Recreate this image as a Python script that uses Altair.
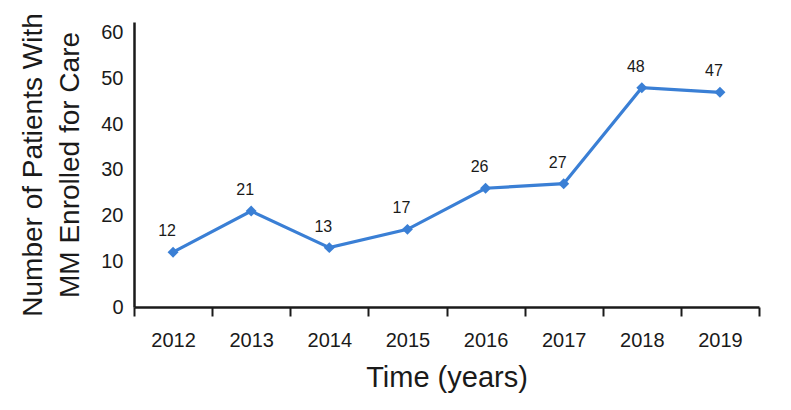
import altair as alt
import pandas as pd

years = [2012, 2013, 2014, 2015, 2016, 2017, 2018, 2019]
patients = [12, 21, 13, 17, 26, 27, 48, 47]
y_ticks = [0, 10, 20, 30, 40, 50, 60]

df = pd.DataFrame({"year": years, "patients": patients})

FONT = "Liberation Sans, Arial, Helvetica, sans-serif"
BLUE = "#3A7FD5"
INK = "#1a1a1a"

x_vals = []
for y in years:
    x_vals += [y - 0.5, y]
x_vals.append(years[-1] + 0.5)

x_enc = alt.X(
    "year:Q",
    scale=alt.Scale(domain=[years[0] - 0.5, years[-1] + 0.5], nice=False, zero=False),
    axis=alt.Axis(
        title="Time (years)",
        values=x_vals,
        labelExpr="datum.value % 1 === 0 ? datum.value : ''",
        tickOpacity={"condition": {"test": "datum.value % 1 === 0", "value": 0}, "value": 1},
        tickSize=9,
        tickWidth=2,
        tickColor=INK,
        domainColor=INK,
        domainWidth=2.5,
        labelFont=FONT,
        labelFontSize=20,
        labelColor=INK,
        labelPadding=14,
        titleFont=FONT,
        titleFontSize=29,
        titleFontWeight="normal",
        titleColor=INK,
        titlePadding=13,
        grid=False,
    ),
)

y_enc = alt.Y(
    "patients:Q",
    scale=alt.Scale(domain=[0, 62.4], nice=False),
    axis=alt.Axis(
        title=["Number of Patients With", "MM Enrolled for Care"],
        values=y_ticks,
        tickSize=0,
        domainColor=INK,
        domainWidth=2.5,
        labelFont=FONT,
        labelFontSize=20,
        labelColor=INK,
        labelPadding=11,
        titleFont=FONT,
        titleFontSize=28,
        titleFontWeight="normal",
        titleColor=INK,
        titleLineHeight=37,
        titlePadding=16,
        grid=False,
    ),
)

base = alt.Chart(df).encode(x=x_enc, y=y_enc)

line = base.mark_line(color=BLUE, strokeWidth=3.2)
pts = base.mark_point(shape="diamond", filled=True, color=BLUE, size=120, opacity=1)
labels = base.mark_text(font=FONT, fontSize=16, color=INK, dy=-21, dx=-6).encode(
    text="patients:Q"
)

chart = (
    alt.layer(line, pts, labels)
    .properties(
        width=625,
        height=285,
        autosize=alt.AutoSizeParams(type="none"),
        padding={"left": 126, "top": 14, "right": 24, "bottom": 95},
        background="white",
    )
    .configure_view(stroke=None)
)

chart.save("out.html", embed_options={"renderer": "svg", "actions": False})
